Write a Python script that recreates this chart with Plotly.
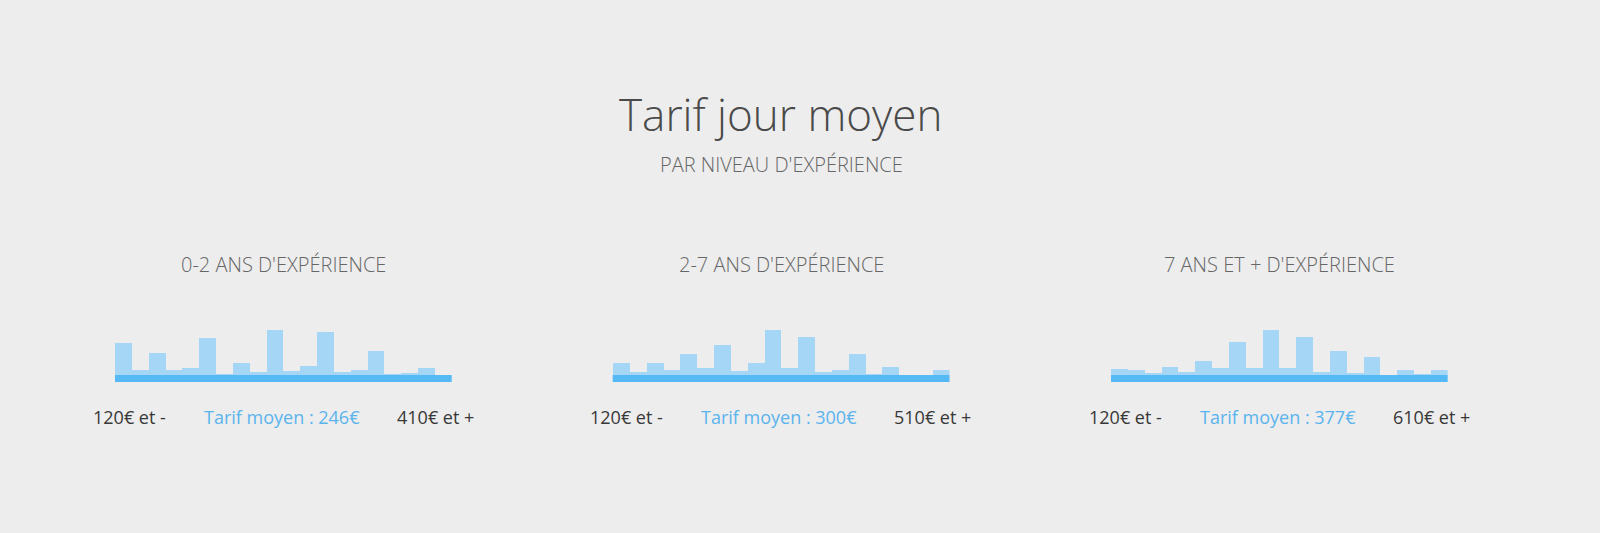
import plotly.graph_objects as go

# ---- data ----
bins = list(range(20))
panel_titles = ["0-2 ANS D'EXPÉRIENCE", "2-7 ANS D'EXPÉRIENCE", "7 ANS ET + D'EXPÉRIENCE"]
low_labels = ["120€ et -", "120€ et -", "120€ et -"]
high_labels = ["410€ et +", "510€ et +", "610€ et +"]
mean_values = [246, 300, 377]
junior = [95, 15, 67, 15, 22, 112, 3, 35, 10, 135, 12, 28, 130, 10, 15, 72, 2, 5, 20, 0]
mid = [35, 10, 37, 15, 63, 20, 90, 12, 35, 135, 22, 113, 10, 15, 63, 3, 25, 0, 0, 14]
senior = [18, 15, 7, 23, 10, 42, 22, 99, 22, 135, 22, 115, 10, 71, 7, 55, 0, 16, 2, 14]
series = [junior, mid, senior]

W, H = 1600, 533
BG = "#ededed"
BAR = "#a6d6f6"
LINE = "#55b9f5"
FONT = "Open Sans"

def px_x(p):
    return p / W

def px_y(p):
    return 1 - p / H

panel_px = [(115, 451.7), (612.7, 949.5), (1111, 1447.7)]
base_top, base_bot = 375, 382
bar_top = 325

fig = go.Figure()
for i, vals in enumerate(series):
    ax = "" if i == 0 else str(i + 1)
    fig.add_trace(go.Bar(
        x=bins, y=vals, xaxis="x" + ax, yaxis="y" + ax,
        marker=dict(color=BAR, line=dict(width=0)),
        width=1.0, hoverinfo="skip", showlegend=False,
    ))
    x0, x1 = panel_px[i]
    xa = dict(domain=[px_x(x0), px_x(x1)], range=[-0.5, 19.5], visible=False,
              fixedrange=True)
    ya = dict(domain=[px_y(base_top), px_y(bar_top)], range=[0, 150], visible=False,
              fixedrange=True)
    if i > 0:
        xa["anchor"] = "y" + ax
        ya["anchor"] = "x" + ax
    fig.update_layout(**{"xaxis" + ax: xa, "yaxis" + ax: ya})

    xref = "x" + ax + " domain"
    fig.add_shape(type="rect", xref=xref, yref="paper", x0=0, x1=1,
                  y0=px_y(base_bot), y1=px_y(base_top),
                  fillcolor=LINE, line=dict(width=0), layer="above")
    fig.add_annotation(text=panel_titles[i], xref=xref, yref="paper", x=0.5,
                       y=px_y(264), showarrow=False, xanchor="center", yanchor="middle",
                       font=dict(family=FONT, size=20, color="#666666", weight=300))
    fig.add_annotation(text=low_labels[i], xref=xref, yref="paper", x=0.0416,
                       y=px_y(416.5), showarrow=False, xanchor="center", yanchor="middle",
                       font=dict(family=FONT, size=18, color="#383838", weight=400))
    fig.add_annotation(text=high_labels[i], xref=xref, yref="paper", x=0.951,
                       y=px_y(416.5), showarrow=False, xanchor="center", yanchor="middle",
                       font=dict(family=FONT, size=18, color="#383838", weight=400))
    fig.add_annotation(text=f"Tarif moyen : {mean_values[i]}€", xref=xref, yref="paper", x=0.495,
                       y=px_y(416.5), showarrow=False, xanchor="center", yanchor="middle",
                       font=dict(family=FONT, size=18, color="#5ab4ee", weight=400))

fig.add_annotation(text="Tarif jour moyen", xref="paper", yref="paper", x=px_x(780),
                   y=px_y(114), showarrow=False, xanchor="center", yanchor="middle",
                   font=dict(family=FONT, size=44, color="#4a4a4a", weight=300))
fig.add_annotation(text="PAR NIVEAU D'EXPÉRIENCE", xref="paper", yref="paper", x=px_x(781),
                   y=px_y(164.5), showarrow=False, xanchor="center", yanchor="middle",
                   font=dict(family=FONT, size=20, color="#666666", weight=300))

fig.update_layout(
    width=W, height=H, margin=dict(l=0, r=0, t=0, b=0),
    paper_bgcolor=BG, plot_bgcolor=BG, bargap=0, showlegend=False,
)
fig.write_html(
    "out.html",
    config={"displayModeBar": False},
    post_script="document.body.style.margin='0';document.body.style.background='#ededed';"
                "document.body.style.overflow='hidden';",
)
